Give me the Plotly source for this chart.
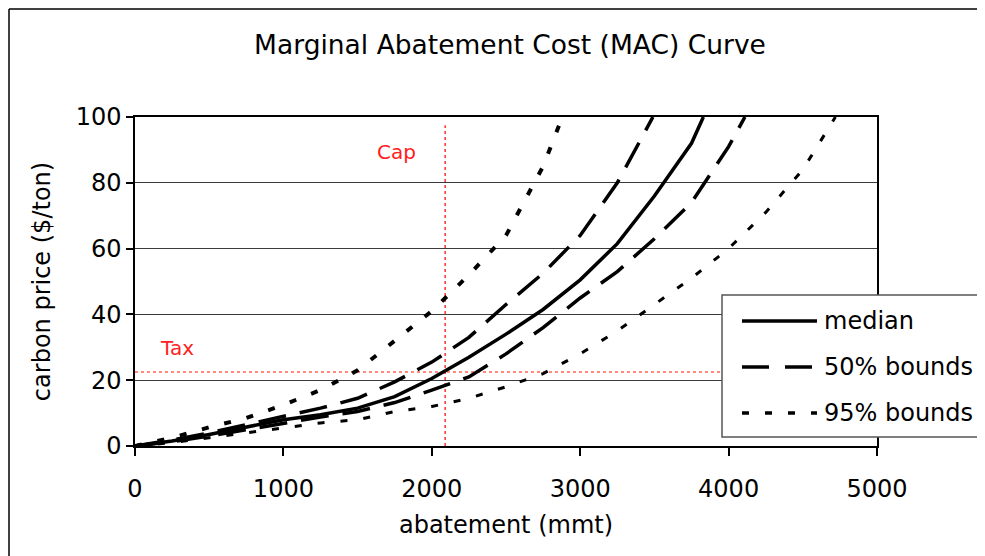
import plotly.graph_objects as go

# ---- data ----
med_x = [0, 250, 500, 750, 1000, 1250, 1500, 1750, 2000, 2250, 2500, 2750, 3000, 3250, 3500, 3750, 3830]
med_y = [0, 1.5, 3.5, 5.8, 8.0, 9.5, 11.5, 15.0, 20.5, 27.0, 34.0, 41.5, 50.5, 61.5, 76.0, 92.0, 100]

up50_x = [0, 250, 500, 750, 1000, 1250, 1500, 1750, 2000, 2250, 2500, 2750, 3000, 3250, 3490]
up50_y = [0, 1.8, 4.0, 6.5, 8.8, 11.5, 14.5, 19.5, 25.5, 33.0, 43.0, 52.5, 64.0, 80.0, 100]

lo50_x = [0, 250, 500, 750, 1000, 1250, 1500, 1750, 2000, 2250, 2500, 2750, 3000, 3250, 3500, 3750, 4000, 4110]
lo50_y = [0, 1.3, 3.0, 5.0, 7.0, 8.8, 10.5, 13.2, 17.0, 21.0, 28.0, 36.0, 45.0, 53.0, 63.0, 74.0, 91.0, 100]

up95_x = [0, 250, 500, 750, 1000, 1250, 1500, 1750, 2000, 2250, 2500, 2750, 2880]
up95_y = [0, 2.5, 5.7, 8.5, 12.5, 17.0, 23.0, 32.0, 41.0, 52.0, 64.0, 85.0, 100]

lo95_x = [0, 250, 500, 750, 1000, 1250, 1500, 1750, 2000, 2250, 2500, 2750, 3000, 3250, 3500, 3750, 4000, 4250, 4500, 4720]
lo95_y = [0, 1.0, 2.5, 4.0, 5.5, 7.0, 8.0, 10.5, 12.0, 14.5, 18.0, 22.0, 28.0, 35.0, 43.0, 51.0, 60.0, 71.0, 84.0, 100]

cap_x = 2090      # abatement cap (mmt)
tax_y = 22.5      # carbon tax ($/ton)

x_ticks = [0, 1000, 2000, 3000, 4000, 5000]
y_ticks = [0, 20, 40, 60, 80, 100]

legend_names = ["median", "50% bounds", "95% bounds"]
legend_dash = ["solid", "27px,16px", "7px,16px"]

FONT = "DejaVu Sans"
W, H = 977, 548
ML, MT, MR, MB = 127, 109, 108, 110
PW, PH = W - ML - MR, H - MT - MB


def px(fx):  # figure pixel -> paper x
    return (fx - ML) / PW


def py(fy):  # figure pixel -> paper y
    return (PH + MT - fy) / PH


fig = go.Figure()

# red reference lines
fig.add_trace(go.Scatter(x=[cap_x, cap_x], y=[0, 97.5], mode="lines",
                         line=dict(color="#ff3030", width=1.5, dash="3px,3px"),
                         showlegend=False, hoverinfo="skip"))
fig.add_trace(go.Scatter(x=[0, 5000], y=[tax_y, tax_y], mode="lines",
                         line=dict(color="#ff6450", width=1.5, dash="3px,3px"),
                         showlegend=False, hoverinfo="skip"))

fig.add_trace(go.Scatter(x=up95_x, y=up95_y, mode="lines", name="95% bounds", showlegend=False,
                         line=dict(color="black", width=4, dash=legend_dash[2])))
fig.add_trace(go.Scatter(x=lo95_x, y=lo95_y, mode="lines", name="95% bounds", showlegend=False,
                         line=dict(color="black", width=3, dash=legend_dash[2])))
fig.add_trace(go.Scatter(x=up50_x, y=up50_y, mode="lines", name="50% bounds", showlegend=False,
                         line=dict(color="black", width=3.5, dash="28px,14px")))
fig.add_trace(go.Scatter(x=lo50_x, y=lo50_y, mode="lines", name="50% bounds", showlegend=False,
                         line=dict(color="black", width=3.5, dash="28px,14px")))
fig.add_trace(go.Scatter(x=med_x, y=med_y, mode="lines", name="median", showlegend=False,
                         line=dict(color="black", width=3.5)))

fig.add_annotation(x=1765, y=89.4, text="Cap", showarrow=False,
                   font=dict(family=FONT, size=20, color="#ff2020"))
fig.add_annotation(x=283, y=29.8, text="Tax", showarrow=False,
                   font=dict(family=FONT, size=20, color="#ff2020"))

# outer chart border (left and top edges of the figure)
bx, by = px(1), py(1)
fig.add_shape(type="line", xref="paper", yref="paper", x0=bx, x1=bx, y0=-0.5, y1=by,
              line=dict(color="black", width=1.5))
fig.add_shape(type="line", xref="paper", yref="paper", x0=bx, x1=1.3, y0=by, y1=by,
              line=dict(color="black", width=1.5))

# legend box (extends past the right edge as in the reference)
fig.add_shape(type="rect", xref="paper", yref="paper", x0=px(714), x1=px(1010),
              y0=py(429), y1=py(287), fillcolor="white", line=dict(color="#555", width=1.5))
row_y = [313, 359, 405]
for name, dash, ry in zip(legend_names, legend_dash, row_y):
    fig.add_shape(type="line", xref="paper", yref="paper", x0=px(734), x1=px(809),
                  y0=py(ry), y1=py(ry), line=dict(color="black", width=3.5, dash=dash))
    fig.add_annotation(xref="paper", yref="paper", x=px(814), y=py(ry), text=name,
                       xanchor="left", yanchor="middle", showarrow=False,
                       font=dict(family=FONT, size=24, color="black"))

fig.update_layout(
    width=W, height=H,
    margin=dict(l=ML, r=MR, t=MT, b=MB, autoexpand=False),
    paper_bgcolor="white", plot_bgcolor="white",
    font=dict(family=FONT, size=24, color="black"),
    title=dict(text="Marginal Abatement Cost (MAC) Curve", x=(510 - 8) / W, xref="container",
               y=1 - 37 / H, yref="container", xanchor="center", yanchor="middle",
               font=dict(family=FONT, size=26.5, color="black")),
    showlegend=False,
)
fig.update_xaxes(range=[0, 5000], tickvals=x_ticks, ticktext=[str(v) for v in x_ticks],
                 showgrid=False, zeroline=False, showline=True, linecolor="black", linewidth=1.5,
                 mirror=True, ticks="outside", ticklen=8, tickcolor="black", tickwidth=1.5,
                 ticklabelstandoff=12,
                 title=dict(text="abatement (mmt)", standoff=15, font=dict(family=FONT, size=24)))
fig.update_yaxes(range=[0, 100], tickvals=y_ticks, ticktext=[str(v) for v in y_ticks],
                 showgrid=True, gridcolor="#3a3a3a", gridwidth=1, zeroline=False,
                 showline=True, linecolor="black", linewidth=1.5, mirror=True,
                 ticks="outside", ticklen=7, tickcolor="black", tickwidth=1.5,
                 title=dict(text="carbon price ($/ton)", standoff=18, font=dict(family=FONT, size=24)))

fig.write_html("out.html")
